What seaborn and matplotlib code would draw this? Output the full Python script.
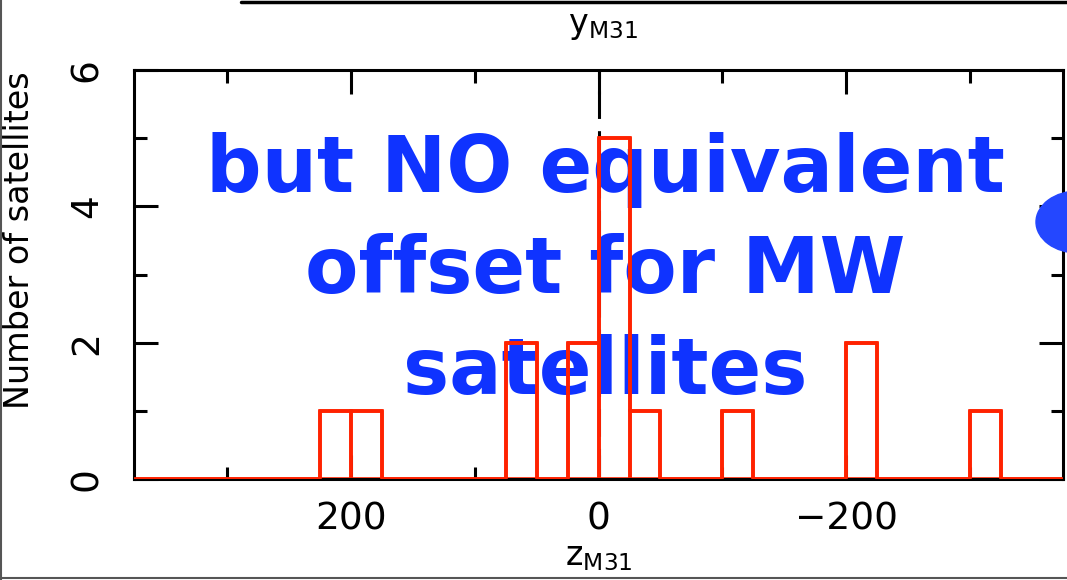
import numpy as np
import pandas as pd
import matplotlib.pyplot as plt
import seaborn as sns
from matplotlib.lines import Line2D
from matplotlib.patches import Ellipse
from matplotlib.ticker import MultipleLocator

# satellites per 25-wide bin in z_M31 (bin left edge -> count)
bin_left = [200, 175, 50, 0, -25, -50, -125, -225, -325]
n_sat = [1, 1, 2, 2, 5, 1, 1, 2, 1]
bin_width = 25
z_lo, z_hi = -375, 375

x_ticks = [200, 0, -200]
x_ticklabels = ['200', '0', '\u2212200']
y_ticks = [0, 2, 4, 6]
y_ticklabels = ['0', '2', '4', '6']

note = 'but NO equivalent\noffset for MW\nsatellites'

df = pd.DataFrame({'z': np.array(bin_left) + bin_width / 2, 'n': n_sat})

# Style
sns.set_style('ticks', {'xtick.direction': 'in', 'ytick.direction': 'in'})
plt.rcParams['font.family'] = 'DejaVu Sans'
plt.rcParams['text.color'] = 'black'
plt.rcParams['axes.labelcolor'] = 'black'
plt.rcParams['xtick.color'] = 'black'
plt.rcParams['ytick.color'] = 'black'

red = '#ff2200'
blue = '#0f33ff'

fig = plt.figure(figsize=(10.67, 5.8), dpi=100)
ax = fig.add_axes([0.1256, 0.1741, 0.8707, 0.7052])

# step outline (incl. the zero runs along the axis) + one box per bin
hist_kw = dict(data=df, x='z', weights='n', binwidth=bin_width, binrange=(z_lo, z_hi),
               fill=False, color=red, linewidth=2.6, ax=ax)
sns.histplot(element='step', zorder=3, **hist_kw)
sns.histplot(element='bars', zorder=1.6, **hist_kw)

ax.axvline(0, color='black', lw=2.2, ls=(12, (9, 4)), zorder=0.5)

ax.set_xlim(z_hi, z_lo)
ax.set_ylim(0, 6)
ax.set_xticks(x_ticks, x_ticklabels)
ax.set_yticks(y_ticks, y_ticklabels)
ax.xaxis.set_minor_locator(MultipleLocator(100))
ax.yaxis.set_minor_locator(MultipleLocator(1))
ax.tick_params(which='both', top=True, right=True, direction='in', width=2.2, color='black')
ax.tick_params(which='major', length=17)
ax.tick_params(which='minor', length=9)
ax.tick_params(axis='x', labelsize=27, pad=16)
ax.tick_params(axis='y', labelsize=27, pad=21)
for lab in ax.get_yticklabels():
    lab.set_rotation(90)
    lab.set_va('center')
for sp in ax.spines.values():
    sp.set_linewidth(2.2)
    sp.set_color('black')

ax.set_xlabel(r'$\mathrm{z}_{\mathrm{M31}}$', fontsize=24, labelpad=2)
ax.set_ylabel('Number of satellites', fontsize=24)
ax.yaxis.set_label_coords(-0.106, 0.584)

ax.text(0.507, 0.508, note, transform=ax.transAxes, ha='center', va='center',
        multialignment='center', fontsize=56, fontweight='bold', family='DejaVu Sans',
        color=blue, linespacing=1.42, zorder=1.2)

# bits of the surrounding slide
fig.text(603 / 1067, 1 - 25 / 580, r'$\mathrm{y}_{\mathrm{M31}}$', fontsize=24,
         ha='center', va='center')
fig.add_artist(Line2D([241 / 1067, 1], [0.997, 0.997], color='black', lw=2.5))
fig.add_artist(Line2D([0.001, 0.001], [0, 1], color='#555555', lw=1.5))
fig.add_artist(Line2D([0, 1], [0.003, 0.003], color='#555555', lw=1.5))
fig.add_artist(Ellipse((1078 / 1067, 1 - 222 / 580), 84 / 1067, 62 / 580,
                       color='#2447ff', zorder=5))

fig.savefig('out.png', dpi=100)
